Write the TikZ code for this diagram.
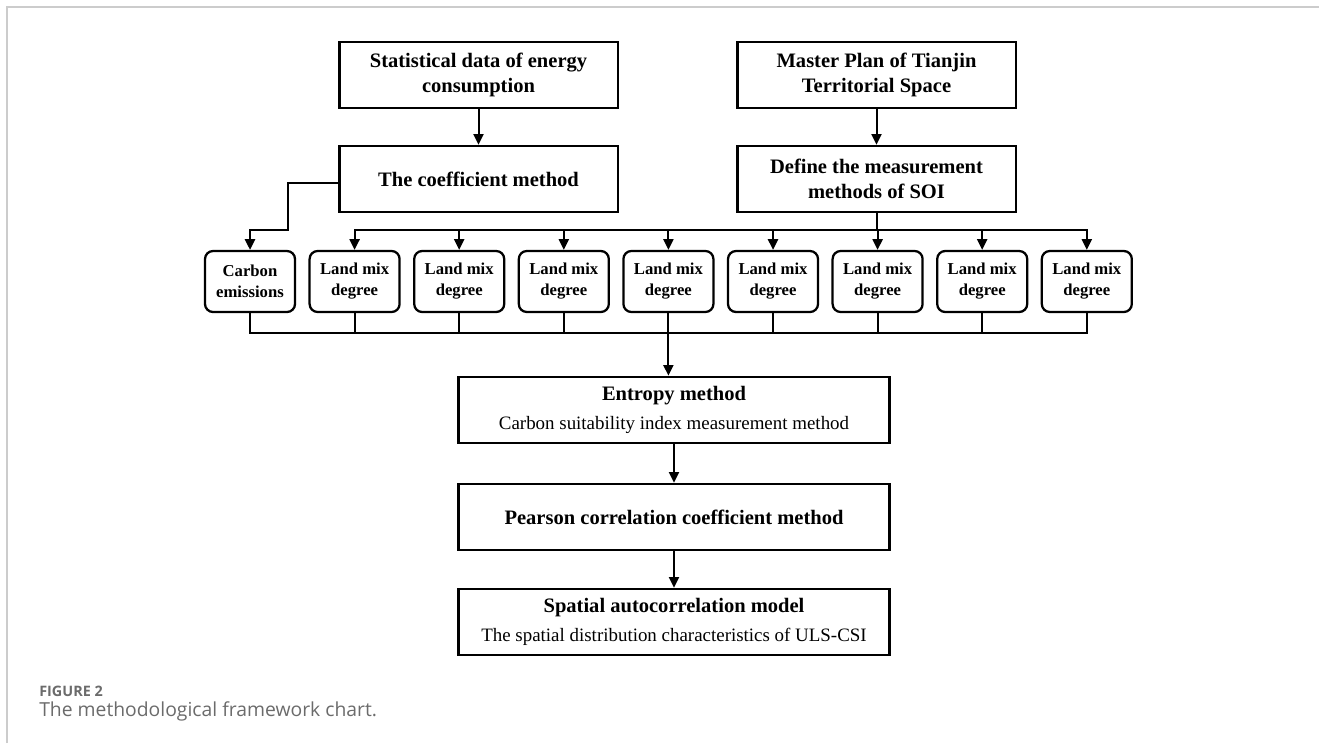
\documentclass[tikz,border=0pt]{standalone}
\usepackage{fontspec}
\setmainfont{Liberation Serif}
\newfontfamily\capfont{Open Sans}
\usetikzlibrary{arrows.meta, calc}
\definecolor{framegray}{rgb}{0.80,0.80,0.80}
\definecolor{captiongray}{rgb}{0.42,0.42,0.42}
\newcommand{\FWsub}[1]{{\fontsize{14.2}{17}\selectfont\mdseries #1}}

\begin{document}
\begin{tikzpicture}[x=0.75pt, y=-0.75pt]
\tikzset{BoxStyle/.style =
    {draw, line width=2pt, minimum width=209pt, minimum height=49.5pt, inner sep=0pt,
     align=center, font=\fontsize{15.4}{19}\selectfont\bfseries}
}
\tikzset{WideBoxStyle/.style = {BoxStyle, minimum width=323pt}}
\tikzset{LandStyle/.style = {draw, line width=1.7pt, rounded corners=6pt, minimum width=67.5pt,
    minimum height=45.75pt, inner sep=0pt, align=center, font=\fontsize{12.5}{15.75}\selectfont\bfseries}}
\tikzset{EdgeStyle/.style = {line width=1.5pt, -{Triangle[length=8pt, width=7.5pt]}}}
\tikzset{LineStyle/.style = {line width=1.5pt, line cap=rect}}
\tikzset{CaptionStyle/.style = {anchor=west, inner sep=0pt, text=captiongray}}
\useasboundingbox (0,0) rectangle (1319,743);
\draw[framegray, line width=1.2pt] (7,743) -- (7,7) -- (1319,7);

\node[BoxStyle] (FW-stat) at (478.5,75) {Statistical data of energy\\consumption};
\node[BoxStyle] (FW-coef) at (478.5,179) {The coefficient method};
\node[BoxStyle] (FW-master) at (876.5,75) {Master Plan of Tianjin\\Territorial Space};
\node[BoxStyle] (FW-define) at (876.5,179) {Define the measurement\\methods of SOI};
\node[LandStyle] (FW-carbon) at (250,281.5) {Carbon\\emissions};
\foreach \i in {1,...,8}
    \node[LandStyle] (FW-land-\i) at ({250+104.6*\i},281.5) {Land mix\\degree};
\node[WideBoxStyle] (FW-entropy) at (674,410) {Entropy method\\[3pt]\FWsub{Carbon suitability index measurement method}};
\node[WideBoxStyle] (FW-pearson) at (674,517) {Pearson correlation coefficient method};
\node[WideBoxStyle] (FW-spatial) at (674,622) {Spatial autocorrelation model\\[3pt]\FWsub{The spatial distribution characteristics of ULS-CSI}};

\coordinate (FW-bus-top) at (0,230);
\coordinate (FW-bus-bot) at (0,333);
\coordinate (FW-bend) at (288,230);
\draw[EdgeStyle] (FW-stat) -- (FW-coef);
\draw[EdgeStyle] (FW-master) -- (FW-define);
\draw[EdgeStyle] ([yshift=-3pt]FW-coef.west) -| (FW-bend) -| (FW-carbon.north);
\draw[LineStyle] (FW-define.south) -- (FW-define.south |- FW-bus-top);
\draw[LineStyle] (FW-land-1.north |- FW-bus-top) -- (FW-land-8.north |- FW-bus-top);
\foreach \i in {1,...,8}
    \draw[EdgeStyle] (FW-land-\i.north |- FW-bus-top) -- (FW-land-\i.north);

\draw[LineStyle] (FW-carbon.south) -- (FW-carbon.south |- FW-bus-bot) -- (FW-land-8.south |- FW-bus-bot) -- (FW-land-8.south);
\foreach \i in {1,...,7}
    \draw[LineStyle] (FW-land-\i.south) -- (FW-land-\i.south |- FW-bus-bot);
\draw[EdgeStyle] (FW-land-4.south |- FW-bus-bot) -- (FW-land-4.south |- FW-entropy.north);
\draw[EdgeStyle] (FW-entropy) -- (FW-pearson);
\draw[EdgeStyle] (FW-pearson) -- (FW-spatial);

\node[CaptionStyle, font=\capfont\fontsize{10.8}{13}\selectfont\bfseries] (FW-fig) at (39,691) {FIGURE 2};
\node[CaptionStyle, font=\capfont\fontsize{14.5}{17}\selectfont] (FW-caption) at (39,711) {The methodological framework chart.};
\end{tikzpicture}
\end{document}
